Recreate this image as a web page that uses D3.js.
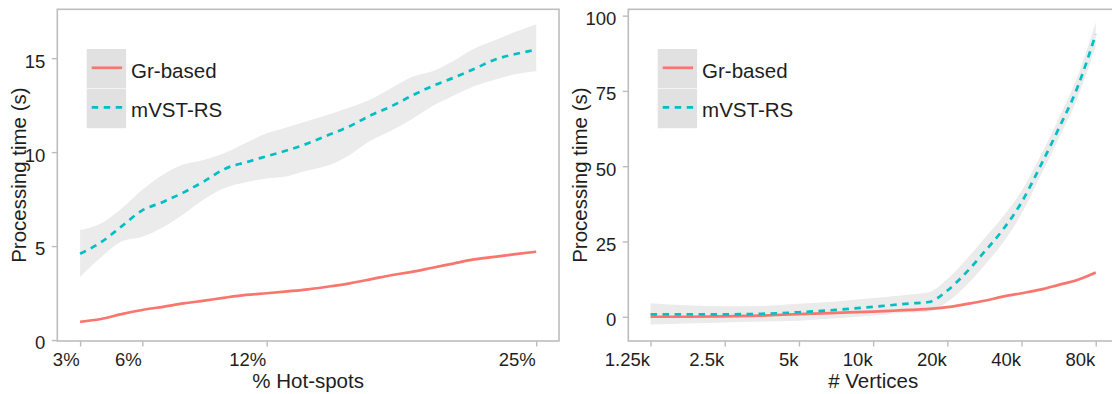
<!DOCTYPE html>
<html>
<head>
<meta charset="utf-8">
<script src="https://cdn.jsdelivr.net/npm/d3@7"></script>
<style>
  body { margin: 0; background: #fff; }
  svg { display: block; font-family: "Liberation Sans", Arial, sans-serif; }
</style>
</head>
<body>
<svg id="chart" width="1112" height="394"></svg>
<script>
// ---- Left panel: processing time vs. share of hot-spots ----
const hotspotPct   = [3, 4, 5, 6, 7, 8, 9, 10, 11, 12, 13, 14, 15, 16, 17, 18, 19, 20, 21, 22, 23, 24, 25];
const hotGrBased   = [0.97, 1.12, 1.38, 1.6, 1.77, 1.95, 2.1, 2.26, 2.4, 2.49, 2.59, 2.7, 2.85, 3.02, 3.23, 3.45, 3.63, 3.85, 4.07, 4.29, 4.43, 4.57, 4.7];
const hotMvst      = [4.59, 5.2, 6.05, 6.9, 7.35, 7.86, 8.46, 9.12, 9.46, 9.78, 10.1, 10.47, 10.92, 11.38, 11.95, 12.43, 13.0, 13.52, 13.95, 14.42, 14.92, 15.22, 15.45];
const hotMvstLo    = [3.35, 4.4, 5.25, 5.5, 6.0, 6.71, 7.5, 8.1, 8.4, 8.6, 8.72, 9.03, 9.3, 9.85, 10.6, 11.14, 11.75, 12.45, 13.0, 13.5, 13.85, 14.15, 14.3];
const hotMvstHi    = [5.85, 6.2, 7.0, 8.0, 8.8, 9.35, 9.6, 9.97, 10.5, 11.0, 11.33, 11.67, 12.0, 12.37, 12.8, 13.4, 14.0, 14.3, 14.85, 15.5, 15.95, 16.4, 16.8];
const hotXTicks      = [3, 6, 12, 25];
const hotXTickLabels = ["3%", "6%", "12%", "25%"];
const hotYTicks      = [0, 5, 10, 15];

// ---- Right panel: processing time vs. number of vertices (thousands) ----
const vertK        = [1.25, 1.77, 2.5, 3.54, 5, 7.07, 10, 12, 14.1, 16.8, 20, 23.8, 28.3, 33.6, 40, 47.6, 56.6, 67.3, 80];
const vertGrBased  = [0.0, 0.0, 0.1, 0.4, 0.9, 1.3, 1.7, 2.0, 2.3, 2.6, 3.2, 4.2, 5.3, 6.7, 7.8, 9.0, 10.6, 12.2, 14.7];
const vertMvst     = [0.8, 0.8, 0.8, 1.0, 1.5, 2.3, 3.3, 3.9, 4.4, 4.9, 8.7, 14.6, 21.6, 28.9, 38.0, 49.9, 62.5, 76.0, 93.8];
const vertMvstLo   = [-2.6, -2.2, -1.9, -1.6, -1.3, -0.5, 0.4, 1.0, 1.4, 1.7, 4.9, 10.3, 17.1, 24.6, 34.2, 46.6, 59.2, 72.4, 89.8];
const vertMvstHi   = [4.5, 3.8, 3.5, 3.6, 4.3, 5.1, 6.2, 6.8, 7.4, 8.1, 12.5, 18.9, 26.1, 33.2, 41.8, 53.2, 65.8, 79.6, 97.8];
const vertXTicks      = [1.25, 2.5, 5, 10, 20, 40, 80];
const vertXTickLabels = ["1.25k", "2.5k", "5k", "10k", "20k", "40k", "80k"];
const vertYTicks      = [0, 25, 50, 75, 100];

const seriesNames  = ["Gr-based", "mVST-RS"];
const seriesColors = ["#F8766D", "#00BFC4"];

const svg = d3.select("#chart");
const defs = svg.append("defs");

const TICK_FONT = 18.5, TITLE_FONT = 20.5;
const TEXT_COL = "#1e1e1e", FRAME_COL = "#bdbdbd", RIBBON_COL = "#ebebeb", KEY_COL = "#e1e1e1";

function drawPanel(cfg) {
  const { id, box, x, y } = cfg;
  const g = svg.append("g");

  defs.append("clipPath").attr("id", "clip-" + id)
    .append("rect").attr("x", box.x0).attr("y", box.y0)
    .attr("width", box.x1 - box.x0).attr("height", box.y1 - box.y0);

  const plot = g.append("g").attr("clip-path", `url(#clip-${id})`);

  const rows = cfg.xs.map((xv, i) => ({ x: xv, a: cfg.a[i], b: cfg.b[i], lo: cfg.lo[i], hi: cfg.hi[i] }));

  // confidence band around the mVST-RS trend
  plot.append("path").datum(rows)
    .attr("fill", RIBBON_COL)
    .attr("d", d3.area().curve(d3.curveMonotoneX)
      .x(d => x(d.x)).y0(d => y(d.lo)).y1(d => y(d.hi)));

  // Gr-based trend (solid)
  plot.append("path").datum(rows)
    .attr("fill", "none").attr("stroke", seriesColors[0]).attr("stroke-width", 2.7)
    .attr("d", d3.line().curve(d3.curveMonotoneX).x(d => x(d.x)).y(d => y(d.a)));

  // mVST-RS trend (dashed)
  plot.append("path").datum(rows)
    .attr("fill", "none").attr("stroke", seriesColors[1]).attr("stroke-width", 2.7)
    .attr("stroke-dasharray", "6.5,5.5")
    .attr("d", d3.line().curve(d3.curveMonotoneX).x(d => x(d.x)).y(d => y(d.b)));

  // panel frame
  g.append("rect").attr("x", box.x0).attr("y", box.y0)
    .attr("width", box.x1 - box.x0).attr("height", box.y1 - box.y0)
    .attr("fill", "none").attr("stroke", FRAME_COL).attr("stroke-width", 1.6);

  // y axis
  const yAxis = d3.axisLeft(y).tickValues(cfg.yTicks).tickSize(5.5).tickPadding(6.5);
  const ya = g.append("g").attr("transform", `translate(${box.x0},0)`).call(yAxis);
  ya.select(".domain").remove();
  ya.selectAll(".tick line").attr("stroke", FRAME_COL).attr("stroke-width", 1.4);
  ya.selectAll(".tick text").attr("fill", TEXT_COL).attr("font-size", TICK_FONT)
    .attr("font-family", null).attr("dy", "0.48em");

  // x axis, labels right-aligned to their ticks
  const xAxis = d3.axisBottom(x).tickValues(cfg.xTicks)
    .tickFormat((d, i) => cfg.xTickLabels[i]).tickSize(5.5).tickPadding(6);
  const xa = g.append("g").attr("transform", `translate(0,${box.y1})`).call(xAxis);
  xa.select(".domain").remove();
  xa.selectAll(".tick line").attr("stroke", FRAME_COL).attr("stroke-width", 1.4);
  xa.selectAll(".tick text").attr("fill", TEXT_COL).attr("font-size", TICK_FONT)
    .attr("font-family", null).attr("text-anchor", "end").attr("x", -1).attr("y", 11.5).attr("dy", "0.71em");

  // axis titles
  g.append("text").attr("x", (box.x0 + box.x1) / 2).attr("y", 388.3)
    .attr("text-anchor", "middle").attr("font-size", TITLE_FONT).attr("fill", TEXT_COL)
    .text(cfg.xTitle);
  g.append("text")
    .attr("transform", `translate(${cfg.yTitleX},${(box.y0 + box.y1) / 2}) rotate(-90)`)
    .attr("text-anchor", "middle").attr("dy", "0.36em")
    .attr("font-size", TITLE_FONT).attr("fill", TEXT_COL)
    .text("Processing time (s)");

  // legend
  const lg = g.append("g").attr("transform", `translate(${box.x0 + 29.4},49)`);
  const keyW = 39.4, keyH = 39.6;
  seriesNames.forEach((name, i) => {
    const ky = i * keyH;
    lg.append("rect").attr("x", 0).attr("y", ky).attr("width", keyW).attr("height", keyH)
      .attr("fill", KEY_COL);
    lg.append("line").attr("x1", 5).attr("x2", keyW - 4).attr("y1", ky + keyH / 2 - 1).attr("y2", ky + keyH / 2 - 1)
      .attr("stroke", seriesColors[i]).attr("stroke-width", 2.7)
      .attr("stroke-dasharray", i === 1 ? "6.5,5.5" : null);
    lg.append("text").attr("x", keyW + 5).attr("y", ky + 28.5)
      .attr("font-size", TITLE_FONT).attr("fill", TEXT_COL).text(name);
  });
  lg.append("line").attr("x1", 0).attr("x2", keyW).attr("y1", keyH).attr("y2", keyH)
    .attr("stroke", "#f4f4f4").attr("stroke-width", 1);
}

// ggplot-style 5% expansion of the data range on each side
function expanded(r0, r1) {
  const pad = (r1 - r0) * 0.05 / 1.1;
  return [r0 + pad, r1 - pad];
}

// left panel
const boxL = { x0: 57.3, x1: 559, y0: 9.3, y1: 341 };
const xL = d3.scaleLinear().domain([3, 25]).range(expanded(boxL.x0, boxL.x1));
const yL = d3.scaleLinear().domain([-0.05, 17.6]).range([boxL.y1, boxL.y0]);
drawPanel({
  id: "hot", box: boxL, x: xL, y: yL,
  xs: hotspotPct, a: hotGrBased, b: hotMvst, lo: hotMvstLo, hi: hotMvstHi,
  xTicks: hotXTicks, xTickLabels: hotXTickLabels, yTicks: hotYTicks,
  xTitle: "% Hot-spots", yTitleX: 18.5
});

// right panel (log2-spaced vertex counts)
const boxR = { x0: 628.3, x1: 1118, y0: 9.3, y1: 341 };
const xR = d3.scaleLog().base(2).domain([1.25, 80]).range(expanded(boxR.x0, boxR.x1));
const yR = d3.scaleLinear().domain([-8.05, 102.1]).range([boxR.y1, boxR.y0]);
drawPanel({
  id: "vert", box: boxR, x: xR, y: yR,
  xs: vertK, a: vertGrBased, b: vertMvst, lo: vertMvstLo, hi: vertMvstHi,
  xTicks: vertXTicks, xTickLabels: vertXTickLabels, yTicks: vertYTicks,
  xTitle: "# Vertices", yTitleX: 580
});
</script>
</body>
</html>
